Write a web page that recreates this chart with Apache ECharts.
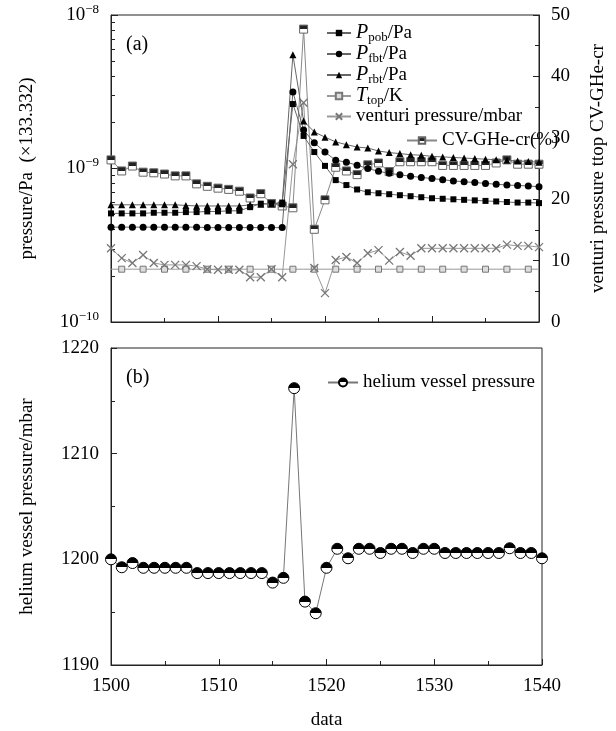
<!DOCTYPE html>
<html>
<head>
<meta charset="utf-8">
<script src="https://cdn.jsdelivr.net/npm/echarts@6/dist/echarts.min.js"></script>
<style>
html,body{margin:0;padding:0;background:#fff;}
#c{width:616px;height:731px;}
</style>
</head>
<body>
<div id="c"></div>
<script>
// ---------------- data ----------------
const xs = [1500,1501,1502,1503,1504,1505,1506,1507,1508,1509,1510,1511,1512,1513,1514,1515,1516,1517,1518,1519,1520,
            1521,1522,1523,1524,1525,1526,1527,1528,1529,1530,1531,1532,1533,1534,1535,1536,1537,1538,1539,1540];

// left (log) axis, Pa (x133.332)
const pPob = [5.1e-10,5.1e-10,5.1e-10,5.1e-10,5.15e-10,5.15e-10,5.15e-10,5.2e-10,5.2e-10,5.25e-10,5.25e-10,5.3e-10,5.3e-10,5.6e-10,5.9e-10,5.9e-10,6.0e-10,
              2.63e-9,1.63e-9,1.28e-9,1.04e-9,8.4e-10,7.8e-10,7.3e-10,7.0e-10,6.9e-10,6.8e-10,6.7e-10,6.6e-10,6.5e-10,6.4e-10,6.35e-10,6.3e-10,6.25e-10,6.2e-10,6.15e-10,6.1e-10,6.05e-10,6.0e-10,6.0e-10,5.95e-10];
const pFbt = [4.15e-10,4.15e-10,4.15e-10,4.15e-10,4.15e-10,4.15e-10,4.15e-10,4.15e-10,4.15e-10,4.12e-10,4.12e-10,4.12e-10,4.12e-10,4.12e-10,4.12e-10,4.12e-10,4.12e-10,
              3.15e-9,1.78e-9,1.47e-9,1.28e-9,1.13e-9,1.10e-9,1.05e-9,1.0e-9,9.6e-10,9.3e-10,9.1e-10,8.9e-10,8.75e-10,8.6e-10,8.45e-10,8.3e-10,8.2e-10,8.1e-10,8.0e-10,7.9e-10,7.8e-10,7.75e-10,7.7e-10,7.6e-10];
const pRbt = [5.8e-10,5.8e-10,5.8e-10,5.8e-10,5.8e-10,5.8e-10,5.8e-10,5.75e-10,5.7e-10,5.7e-10,5.7e-10,5.7e-10,5.7e-10,5.8e-10,5.85e-10,5.9e-10,5.9e-10,
              5.5e-9,2.04e-9,1.73e-9,1.60e-9,1.49e-9,1.43e-9,1.38e-9,1.36e-9,1.30e-9,1.27e-9,1.25e-9,1.23e-9,1.22e-9,1.20e-9,1.19e-9,1.18e-9,1.17e-9,1.16e-9,1.15e-9,1.14e-9,1.13e-9,1.12e-9,1.11e-9,1.10e-9];

// right axis
const tTop = [8.6,8.6,8.6,8.6,8.6,8.6,8.6,8.6,8.6,8.6,8.6,8.6,8.6,8.6,8.6,8.6,8.6,8.6,8.6,8.6,8.6,
              8.6,8.6,8.6,8.6,8.6,8.6,8.6,8.6,8.6,8.6,8.6,8.6,8.6,8.6,8.6,8.6,8.6,8.6,8.6,8.6];
const venturi = [12.0,10.4,9.6,10.9,9.6,9.3,9.3,9.3,9.1,8.6,8.5,8.5,8.5,7.3,7.3,8.6,7.3,25.7,35.7,8.8,4.7,
                 10.1,10.6,9.6,11.2,11.7,10.0,11.4,10.8,12.0,12.0,12.0,12.0,12.0,12.0,12.0,12.0,12.6,12.4,12.4,12.2];
const cvGHe = [26.4,24.6,25.4,24.4,24.3,24.1,23.8,23.8,22.5,22.1,21.8,21.6,21.3,20.2,20.9,19.3,18.9,18.6,47.7,15.1,19.9,
               25.2,24.6,24.0,25.6,25.9,24.5,26.1,26.1,26.1,26.1,25.5,25.5,25.5,25.5,25.5,25.9,26.4,25.7,25.7,25.7];

// bottom panel, mbar
const helium = [1200.0,1199.25,1199.65,1199.2,1199.2,1199.2,1199.2,1199.2,1198.7,1198.7,1198.7,1198.7,1198.7,1198.7,1198.7,
                1197.8,1198.25,1216.2,1196.0,1194.9,1199.2,1201.0,1200.1,1201.0,1201.0,1200.6,1201.0,1201.0,1200.6,1201.0,1201.0,
                1200.6,1200.6,1200.6,1200.6,1200.6,1200.6,1201.05,1200.6,1200.6,1200.1];

const leftMajor = [1e-10,1e-9,1e-8];
const leftMinor = [2e-10,3e-10,4e-10,5e-10,6e-10,7e-10,8e-10,9e-10,2e-9,3e-9,4e-9,5e-9,6e-9,7e-9,8e-9,9e-9];

// ---------------- chart ----------------
const FONT = 'Liberation Serif';
const chart = echarts.init(document.getElementById('c'), null, {renderer:'canvas'});
const pair = arr => xs.map((x,i)=>[x,arr[i]]);
const half = (top,bot) => new echarts.graphic.LinearGradient(0,0,0,1,[
  {offset:0,color:top},{offset:0.5,color:top},{offset:0.5,color:bot},{offset:1,color:bot}]);
const AX = '#222';
const plain = v => String(v);
const supMap = {'-8':'−8','-9':'−9','-10':'−10'};

const option = {
  backgroundColor:'#fff',
  animation:false,
  textStyle:{fontFamily:FONT},
  grid:[
    {left:111,right:74,top:15,height:307,show:true,borderColor:AX,borderWidth:1,backgroundColor:'transparent'},
    {left:111,right:74,top:348,height:320,show:true,borderColor:AX,borderWidth:1,backgroundColor:'transparent'}
  ],
  xAxis:[
    {gridIndex:0,type:'value',min:1500,max:1540,interval:10,
     axisLine:{lineStyle:{color:AX}},axisLabel:{show:false},
     axisTick:{inside:true,length:6,lineStyle:{color:AX}},
     minorTick:{show:true,splitNumber:2,length:4,lineStyle:{color:AX}},splitLine:{show:false}},
    {gridIndex:1,type:'value',min:1500,max:1540,interval:10,
     axisLine:{lineStyle:{color:AX}},
     axisLabel:{color:'#000',fontSize:19,fontFamily:FONT,margin:12,formatter:plain},
     axisTick:{inside:true,length:6,lineStyle:{color:AX}},
     minorTick:{show:true,splitNumber:2,length:4,lineStyle:{color:AX}},splitLine:{show:false},
     name:'data',nameLocation:'middle',nameGap:46,nameTextStyle:{color:'#000',fontSize:19,fontFamily:FONT}}
  ],
  yAxis:[
    {gridIndex:0,type:'log',logBase:10,min:1e-10,max:1e-8,position:'left',
     axisLine:{show:true,lineStyle:{color:AX}},
     axisTick:{inside:true,length:7,customValues:leftMajor,lineStyle:{color:AX}},
     axisLabel:{customValues:leftMajor,margin:12,color:'#000',
       formatter:v=>{const e=Math.round(Math.log10(v));return '{b|10}{e|'+supMap[String(e)]+'}';},
       rich:{b:{fontSize:19,fontFamily:FONT,color:'#000'},e:{fontSize:13,fontFamily:FONT,color:'#000',padding:[0,0,11,0]}}},
     splitLine:{show:false},
     name:'pressure/Pa  (×133.332)',nameLocation:'middle',nameRotate:90,nameGap:74,
     nameTextStyle:{color:'#000',fontSize:19,fontFamily:FONT}},
    {gridIndex:0,type:'value',min:0,max:50,interval:10,position:'right',
     axisLine:{show:true,lineStyle:{color:AX}},
     axisTick:{inside:true,length:6,lineStyle:{color:AX}},
     minorTick:{show:true,splitNumber:2,length:4,lineStyle:{color:AX}},
     axisLabel:{color:'#000',fontSize:19,fontFamily:FONT,margin:12,formatter:plain},
     splitLine:{show:false},
     name:'venturi pressure ttop CV-GHe-cr',nameLocation:'middle',nameRotate:90,nameGap:50,
     nameTextStyle:{color:'#000',fontSize:19,fontFamily:FONT}},
    {gridIndex:0,type:'log',logBase:10,min:1e-10,max:1e-8,position:'left',offset:0,
     axisLine:{show:false},axisLabel:{show:false},splitLine:{show:false},
     axisTick:{show:true,inside:true,length:4,customValues:leftMinor,lineStyle:{color:AX}}},
    {gridIndex:1,type:'value',min:1190,max:1220,interval:10,position:'left',
     axisLine:{show:true,lineStyle:{color:AX}},
     axisTick:{inside:true,length:6,lineStyle:{color:AX}},
     minorTick:{show:true,splitNumber:2,length:4,lineStyle:{color:AX}},
     axisLabel:{color:'#000',fontSize:19,fontFamily:FONT,margin:12,formatter:plain},
     splitLine:{show:false},
     name:'helium vessel pressure/mbar',nameLocation:'middle',nameRotate:90,nameGap:74,
     nameTextStyle:{color:'#000',fontSize:19,fontFamily:FONT}}
  ],
  legend:[
    {orient:'vertical',left:321,top:18,itemWidth:24,itemHeight:8,itemGap:0,
     data:['Ppob','Pfbt','Prbt','Ttop','venturi'],
     formatter:n=>({Ppob:'{i|P}{s|pob}{t|/Pa}',Pfbt:'{i|P}{s|fbt}{t|/Pa}',Prbt:'{i|P}{s|rbt}{t|/Pa}',
                    Ttop:'{i|T}{s|top}{t|/K}',venturi:'{t|venturi pressure/mbar}'}[n]),
     textStyle:{color:'#000',fontFamily:FONT,
       rich:{i:{fontSize:20,fontStyle:'italic',fontFamily:FONT,color:'#000',lineHeight:21},
             s:{fontSize:13,fontFamily:FONT,color:'#000',padding:[9,0,0,0]},
             t:{fontSize:19,fontFamily:FONT,color:'#000',lineHeight:21}}}},
    {orient:'vertical',left:401,top:126,itemWidth:30,itemHeight:8,data:['CV'],
     formatter:()=>'CV-GHe-cr(%)',textStyle:{color:'#000',fontSize:19,fontFamily:FONT}},
    {orient:'vertical',left:322,top:368,itemWidth:30,itemHeight:10,data:['helium'],
     formatter:()=>'helium vessel pressure',textStyle:{color:'#000',fontSize:19,fontFamily:FONT}}
  ],
  graphic:[
    {type:'text',left:126,top:35,style:{text:'(a)',fontSize:20,fontFamily:FONT,fill:'#000'}},
    {type:'text',left:126,top:368,style:{text:'(b)',fontSize:20,fontFamily:FONT,fill:'#000'}}
  ],
  series:[
    {name:'Ppob',type:'line',xAxisIndex:0,yAxisIndex:0,data:pair(pPob),symbol:'rect',symbolSize:6,
     itemStyle:{color:'#000'},lineStyle:{color:'#666',width:1},z:5},
    {name:'Pfbt',type:'line',xAxisIndex:0,yAxisIndex:0,data:pair(pFbt),symbol:'circle',symbolSize:7,
     itemStyle:{color:'#000'},lineStyle:{color:'#666',width:1},z:5},
    {name:'Prbt',type:'line',xAxisIndex:0,yAxisIndex:0,data:pair(pRbt),symbol:'triangle',symbolSize:7,
     itemStyle:{color:'#000'},lineStyle:{color:'#666',width:1},z:5},
    {name:'Ttop',type:'line',xAxisIndex:0,yAxisIndex:1,
     data:xs.map((x,i)=>({value:[x,tTop[i]],symbol:(x%2===1)?'rect':'none'})),
     symbol:'rect',symbolSize:6,itemStyle:{color:'#ddd',borderColor:'#777',borderWidth:1},
     lineStyle:{color:'#999',width:1},z:3},
    {name:'venturi',type:'line',xAxisIndex:0,yAxisIndex:1,data:pair(venturi),
     symbol:'path://M0,0L10,10M10,0L0,10',symbolSize:8,
     itemStyle:{color:'rgba(0,0,0,0)',borderColor:'#777',borderWidth:1.3},
     lineStyle:{color:'#999',width:1},z:4},
    {name:'CV',type:'line',xAxisIndex:0,yAxisIndex:1,data:pair(cvGHe),symbol:'rect',symbolSize:8,
     itemStyle:{color:half('#222','#fff'),borderColor:'#666',borderWidth:1},
     lineStyle:{color:'#888',width:1},z:4},
    {name:'helium',type:'line',xAxisIndex:1,yAxisIndex:3,data:pair(helium),symbol:'circle',symbolSize:11,
     itemStyle:{color:half('#000','#fff'),borderColor:'#000',borderWidth:1},
     lineStyle:{color:'#777',width:1},z:5}
  ]
};
chart.setOption(option);
</script>
</body>
</html>
